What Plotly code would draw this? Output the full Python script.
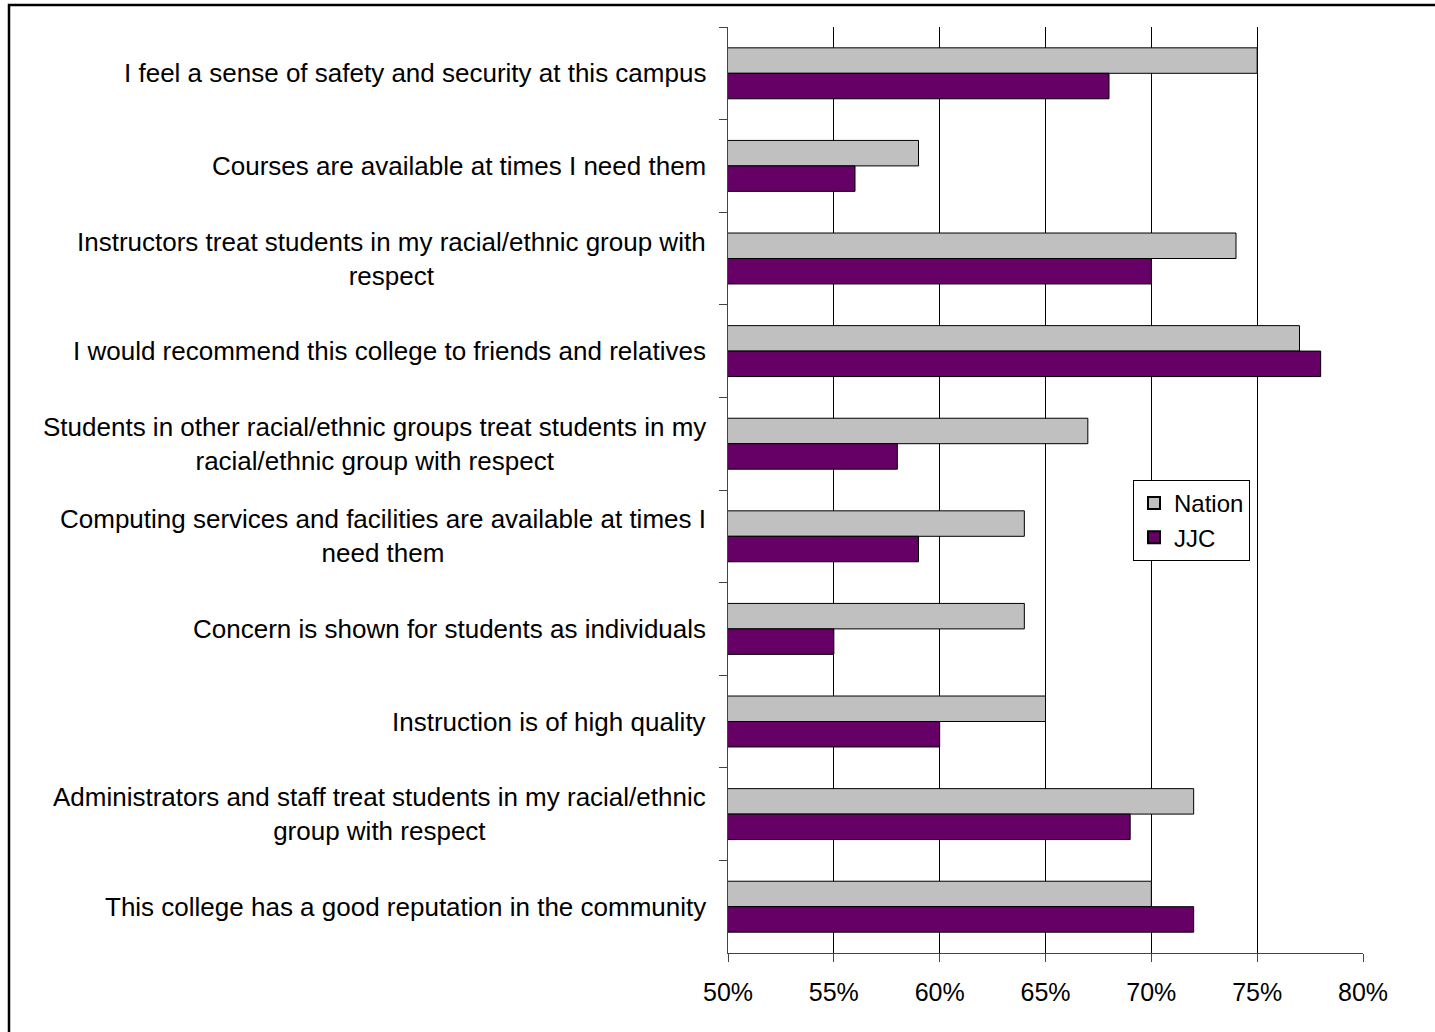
import plotly.graph_objects as go

categories = [
    "I feel a sense of safety and security at this campus",
    "Courses are available at times I need them",
    "Instructors treat students in my racial/ethnic group with<br>respect",
    "I would recommend this college to friends and relatives",
    "Students in other racial/ethnic groups treat students in my<br>racial/ethnic group with respect",
    "Computing services and facilities are available at times I<br>need them",
    "Concern is shown for students as individuals",
    "Instruction is of high quality",
    "Administrators and staff treat students in my racial/ethnic<br>group with respect",
    "This college has a good reputation in the community",
]
nation = [0.75, 0.59, 0.74, 0.77, 0.67, 0.64, 0.64, 0.65, 0.72, 0.70]
jjc = [0.68, 0.56, 0.70, 0.78, 0.58, 0.59, 0.55, 0.60, 0.69, 0.72]
x_ticks = [0.50, 0.55, 0.60, 0.65, 0.70, 0.75, 0.80]
x_tick_labels = ["50%", "55%", "60%", "65%", "70%", "75%", "80%"]

FONT = "Arial, Liberation Sans, sans-serif"
W, H = 1435, 1032
ML, MR, MT, MB = 728, 72, 27, 79

fig = go.Figure()
fig.add_trace(go.Bar(
    name="Nation", y=categories, x=nation, orientation="h",
    marker=dict(color="#C0C0C0", line=dict(color="black", width=1)),
))
fig.add_trace(go.Bar(
    name="JJC", y=categories, x=jjc, orientation="h",
    marker=dict(color="#660066", line=dict(color="black", width=1)),
))

for c in categories:
    fig.add_annotation(
        x=0, xref="paper", y=c, yref="y", xanchor="right", yanchor="middle",
        xshift=-20, text=c, showarrow=False, align="center",
        font=dict(family=FONT, size=26, color="black"),
    )

# chart area border (extends past the image on the right and bottom)
pw = W - ML - MR
ph = H - MT - MB
fig.add_shape(
    type="rect", xref="paper", yref="paper",
    x0=(9 - ML) / pw, x1=2.0, y0=-1.0, y1=(H - MB - 5) / ph,
    line=dict(color="black", width=2.5), fillcolor="rgba(0,0,0,0)", layer="below",
)

fig.update_layout(
    width=W, height=H,
    margin=dict(l=ML, r=MR, t=MT, b=MB),
    paper_bgcolor="white", plot_bgcolor="white",
    barmode="group", bargap=0.45, bargroupgap=0,
    font=dict(family=FONT, size=25, color="black"),
    showlegend=True,
    legend=dict(
        x=(1133 - ML) / pw, y=(H - MB - 480) / ph, xanchor="left", yanchor="top",
        bgcolor="white", bordercolor="black", borderwidth=1,
        font=dict(family=FONT, size=24, color="black"),
        itemsizing="constant", tracegroupgap=8,
    ),
    xaxis=dict(
        range=[0.50, 0.80], tickvals=x_ticks, ticktext=x_tick_labels,
        showgrid=True, gridcolor="black", gridwidth=1,
        showline=True, linecolor="#444444", linewidth=1,
        ticks="outside", ticklen=8, tickcolor="#444444",
        ticklabelstandoff=9,
        zeroline=False, mirror=False,
        tickfont=dict(family=FONT, size=25, color="black"),
    ),
    yaxis=dict(
        autorange="reversed", showticklabels=False,
        showline=True, linecolor="#444444", linewidth=1,
        ticks="outside", ticklen=8, tickcolor="#444444", tickson="boundaries",
        showgrid=False,
    ),
)

fig.write_html(
    "out.html",
    config={"displayModeBar": False},
    post_script="document.body.style.margin='0';document.body.style.padding='0';",
)
